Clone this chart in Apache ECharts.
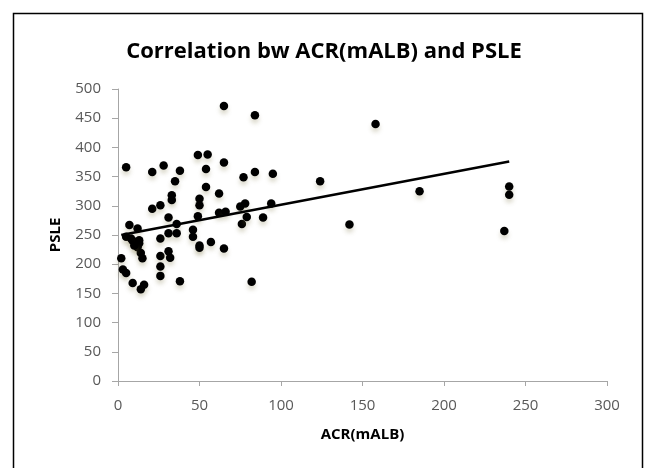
<!DOCTYPE html>
<html>
<head>
<meta charset="utf-8">
<script src="https://cdn.jsdelivr.net/npm/echarts@6/dist/echarts.min.js"></script>
<style>
html,body{margin:0;padding:0;background:#fff;}
#c{width:648px;height:468px;}
</style>
</head>
<body>
<div id="c"></div>
<script>
const acr = [5,21,28,38,35,33,33,21,26,31,7,12,36,46,65,84,49,55,54,65,77,84,95,54,62,50,50,78,75,94,49,62,66,76,79,89,158,124,185,240,240,237,142,46,50,50,57,65,82,5,8,9,13,13,12,14,15,26,31,36,26,31,32,26,26,38,2,3,5,9,16,14,10];
const psle = [366,358,369,360,342,318,310,295,301,280,267,261,269,259,471,455,387,388,363,374,349,358,355,332,321,312,301,304,299,304,282,288,290,269,281,280,440,342,325,333,319,257,268,247,232,228,238,227,170,247,244,240,241,236,229,219,210,244,253,253,214,222,211,196,180,171,210,191,185,168,165,157,232];
const trendX = [2, 240];
const trendY = [250, 376];
const xTicks = [0,50,100,150,200,250,300];
const yTicks = [0,50,100,150,200,250,300,350,400,450,500];

const points = acr.map((v,i)=>[v, psle[i]]);
const trend = trendX.map((v,i)=>[v, trendY[i]]);
const font = 'Open Sans';

const chart = echarts.init(document.getElementById('c'));
chart.setOption({
  animation:false,
  backgroundColor:'#fff',
  title:{
    text:'Correlation bw ACR(mALB) and PSLE',
    left:'center', top:36,
    textStyle:{fontFamily:font, fontSize:22, fontWeight:'bold', color:'#000'}
  },
  graphic:[{
    type:'rect', silent:true,
    shape:{x:13.5, y:13.5, width:629, height:480},
    style:{fill:'none', stroke:'#000', lineWidth:1.5}
  }],
  grid:{left:118, right:41, top:89, bottom:87},
  xAxis:{
    type:'value', min:xTicks[0], max:xTicks[xTicks.length-1], interval:50,
    name:'ACR(mALB)', nameLocation:'middle', nameGap:46,
    nameTextStyle:{fontFamily:font, fontSize:15, fontWeight:'bold', color:'#000'},
    axisLine:{show:true, lineStyle:{color:'#a6a6a6', width:1}},
    axisTick:{show:true, length:5, lineStyle:{color:'#a6a6a6'}},
    axisLabel:{fontFamily:font, fontSize:15, color:'#595959', margin:17},
    splitLine:{show:false}
  },
  yAxis:{
    type:'value', min:yTicks[0], max:yTicks[yTicks.length-1], interval:50,
    name:'PSLE', nameLocation:'middle', nameGap:55, nameRotate:90,
    nameTextStyle:{fontFamily:font, fontSize:15, fontWeight:'bold', color:'#000'},
    axisLine:{show:true, lineStyle:{color:'#a6a6a6', width:1}},
    axisTick:{show:true, length:6, lineStyle:{color:'#a6a6a6'}},
    axisLabel:{fontFamily:font, fontSize:15, color:'#595959', margin:17},
    splitLine:{show:false}
  },
  series:[
    {
      type:'scatter', data:points, symbol:'circle', symbolSize:8.5,
      itemStyle:{color:'#000', opacity:1, shadowColor:'rgba(120,110,60,0.25)', shadowBlur:4, shadowOffsetY:4}
    },
    {
      type:'line', data:trend, symbol:'none',
      lineStyle:{color:'#000', width:2.5}
    }
  ]
});
</script>
</body>
</html>
